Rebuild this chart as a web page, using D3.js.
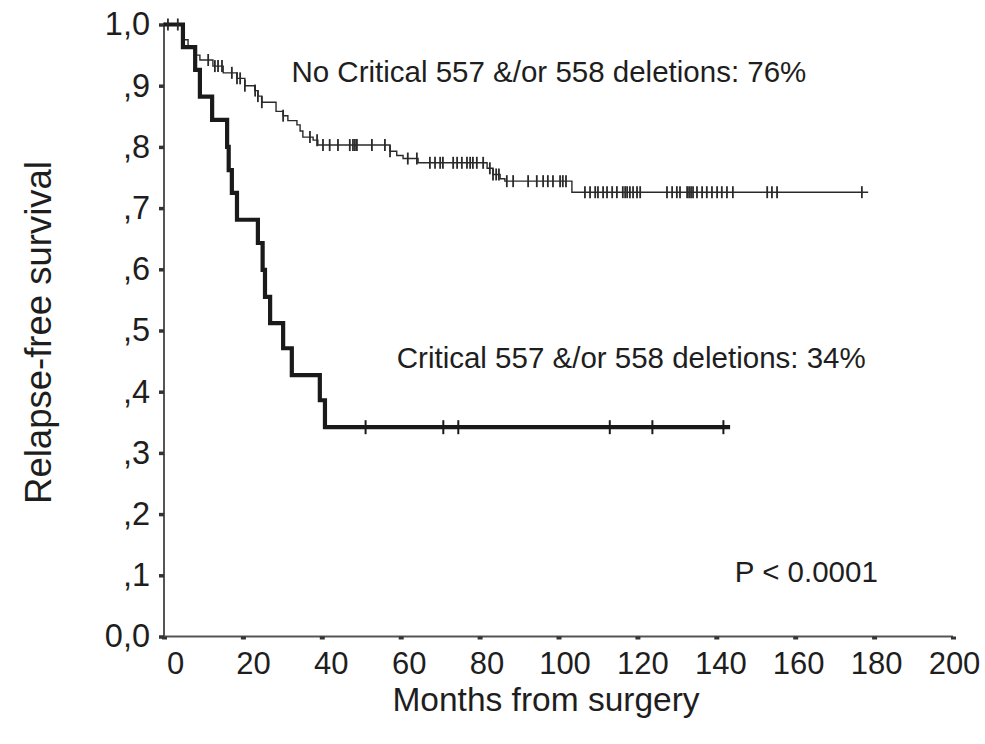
<!DOCTYPE html>
<html>
<head>
<meta charset="utf-8">
<script src="https://cdn.jsdelivr.net/npm/d3@7"></script>
<style>
html,body{margin:0;padding:0;background:#fff;}
svg{display:block;font-family:"Liberation Sans",Arial,sans-serif;}
</style>
</head>
<body>
<svg id="chart" width="985" height="744"></svg>
<script>
// ---- data ----
const xTicks = [0,20,40,60,80,100,120,140,160,180,200];
const yTicks = [0,0.1,0.2,0.3,0.4,0.5,0.6,0.7,0.8,0.9,1.0];
const yTickLabels = ["0,0",",1",",2",",3",",4",",5",",6",",7",",8",",9","1,0"];

// Group without critical deletions: event times (months) and survival after the step
const noCritTimes = [4.8,6.1,7.9,9.1,12.4,15.0,18.5,20.5,23.0,23.8,24.8,28.4,30.2,31.4,33.7,34.5,35.2,37.8,39.0,57.3,59.0,60.6,64.4,81.9,83.4,85.2,86.4,103.4];
const noCritSurv  = [0.975,0.962,0.950,0.942,0.932,0.921,0.912,0.900,0.892,0.883,0.873,0.858,0.851,0.843,0.836,0.826,0.816,0.811,0.803,0.793,0.786,0.781,0.774,0.765,0.755,0.748,0.744,0.726];
const noCritCensor = [1,3.5,11.2,12.9,13.7,14.7,17.2,18.5,19.3,20.5,23.1,23.8,24.8,30.2,37,38.8,40.3,42,44.1,47.1,47.9,48.4,48.9,52.7,56,57.3,61.8,64.1,67.4,68.7,70,70.7,73.3,74.3,75.5,76.8,77.6,78.3,79.3,80.9,82.6,83.4,84.2,84.9,86.9,88.5,92.3,94.5,96.1,97.3,98.6,100.4,101.1,101.9,106.7,108,109.3,110,111.3,112.3,113.6,114.8,116.3,116.9,117.4,118.1,118.9,119.9,120.7,127.5,128.8,130,130.8,132.6,133.1,133.6,134.1,135.1,136.4,137.6,138.9,140.2,141.4,142.7,144.2,152.9,154.1,155.4,176.9];
const noCritEnd = 178.5;

// Group with critical 557/558 deletions
const critTimes = [4.8,7.9,9.1,12.2,16.0,16.4,17.2,18.5,23.8,25.0,25.6,26.9,30.2,32.4,39.5,40.8];
const critSurv  = [0.963,0.926,0.882,0.844,0.800,0.762,0.725,0.681,0.643,0.599,0.555,0.512,0.471,0.427,0.386,0.342];
const critCensor = [51.1,70.8,74.6,113,123.8,141.8];
const critEnd = 143.5;

const annotations = [
  {text:"No Critical 557 &/or 558 deletions: 76%", m:32.3, s:0.906},
  {text:"Critical 557 &/or 558 deletions: 34%", m:59.0, s:0.439},
  {text:"P < 0.0001", m:144.7, s:0.089}
];
const xTitle = "Months from surgery";
const yTitle = "Relapse-free survival";

// ---- drawing ----
const svg = d3.select("#chart");
const x = d3.scaleLinear().domain([0,200]).range([164,953]);
const y = d3.scaleLinear().domain([0,1]).range([636.5,24.5]);
const ink = "#1e1e1e";

function stepPath(times, surv, end){
  const pts = [[0,1]];
  let cur = 1;
  times.forEach((t,i)=>{ pts.push([t,cur]); cur = surv[i]; pts.push([t,cur]); });
  pts.push([end,cur]);
  return d3.line().x(d=>x(d[0])).y(d=>y(d[1]))(pts);
}
function survAt(times, surv, t){
  let s = 1;
  for(let i=0;i<times.length;i++){ if(times[i] <= t) s = surv[i]; }
  return s;
}

// axes
const xAxis = d3.axisBottom(x).tickValues(xTicks).tickSize(3).tickPadding(12).tickFormat(d3.format("d"));
const gx = svg.append("g").attr("transform",`translate(0,${y(0)})`).call(xAxis);
gx.select(".domain").attr("stroke","#555").attr("stroke-width",2).attr("d",`M${x(0)},0H${x(200)}`);
gx.selectAll(".tick line").attr("stroke","#333").attr("stroke-width",5);
gx.selectAll(".tick text").attr("font-size",31).attr("fill",ink).attr("dx",d=>11 - d*0.05)
  .attr("font-family","'Liberation Sans',Arial,sans-serif");

const yAxis = d3.axisLeft(y).tickValues(yTicks).tickSize(5).tickPadding(9).tickFormat((d,i)=>yTickLabels[i]);
const gy = svg.append("g").attr("transform",`translate(${x(0)},0)`).call(yAxis);
gy.select(".domain").attr("stroke","#555").attr("stroke-width",2).attr("d",`M0,${y(1)-2}V${y(0)}`);
gy.selectAll(".tick line").attr("stroke","#333").attr("stroke-width",3.5);
gy.selectAll(".tick text").attr("font-size",32.5).attr("fill",ink)
  .attr("font-family","'Liberation Sans',Arial,sans-serif");

// curves
svg.append("path").attr("d",stepPath(noCritTimes,noCritSurv,noCritEnd))
  .attr("fill","none").attr("stroke","#2a2a2a").attr("stroke-width",1.4);
svg.append("path").attr("d",stepPath(critTimes,critSurv,critEnd))
  .attr("fill","none").attr("stroke","#1a1a1a").attr("stroke-width",4.2).attr("stroke-linejoin","miter");

// censor marks
svg.append("g").selectAll("line").data(noCritCensor).join("line")
  .attr("x1",d=>x(d)).attr("x2",d=>x(d))
  .attr("y1",d=>y(survAt(noCritTimes,noCritSurv,d))-6)
  .attr("y2",d=>y(survAt(noCritTimes,noCritSurv,d))+6)
  .attr("stroke","#2a2a2a").attr("stroke-width",1.8);
svg.append("g").selectAll("line").data(critCensor).join("line")
  .attr("x1",d=>x(d)).attr("x2",d=>x(d))
  .attr("y1",d=>y(survAt(critTimes,critSurv,d))-7)
  .attr("y2",d=>y(survAt(critTimes,critSurv,d))+7)
  .attr("stroke","#1a1a1a").attr("stroke-width",2);

// annotations
svg.append("g").selectAll("text").data(annotations).join("text")
  .attr("x",d=>x(d.m)).attr("y",d=>y(d.s))
  .attr("font-size",29.5).attr("fill",ink).text(d=>d.text);

// titles
svg.append("text").attr("x",546).attr("y",711)
  .attr("text-anchor","middle").attr("font-size",33.5).attr("fill",ink).text(xTitle);
svg.append("text").attr("transform",`translate(51,${y(0.5)+2}) rotate(-90)`)
  .attr("text-anchor","middle").attr("font-size",36.5).attr("fill",ink).text(yTitle);
</script>
</body>
</html>
